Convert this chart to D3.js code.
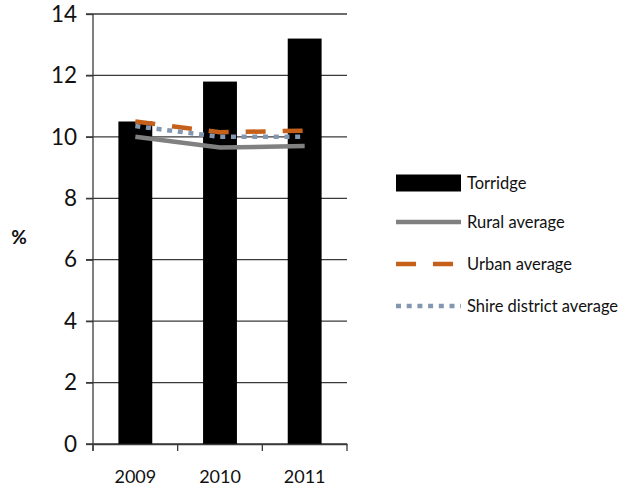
<!DOCTYPE html>
<html><head><meta charset="utf-8">
<script src="https://cdn.jsdelivr.net/npm/d3@7"></script>
<style>body{margin:0;background:#fff}svg{display:block;font-family:Lato,"Open Sans",sans-serif}</style>
</head><body><svg id="c" width="629" height="492"></svg>
<script>
const years = ["2009","2010","2011"];
const torridge = [10.5, 11.8, 13.2];
const rural = [10.0, 9.65, 9.7];
const urban = [10.5, 10.15, 10.2];
const shire = [10.35, 10.0, 10.0];
const yTicks = [0,2,4,6,8,10,12,14];

const svg = d3.select("#c");
const L = 93, R = 347, T = 14, B = 444;
const x = d3.scaleBand().domain(years).range([L, R]).paddingInner(0.6).paddingOuter(0.3);
const y = d3.scaleLinear().domain([0,14]).range([B, T]);

// grid
svg.append("g").selectAll("line").data(yTicks).join("line")
  .attr("x1", L-7).attr("x2", R).attr("y1", d=>y(d)).attr("y2", d=>y(d))
  .attr("stroke", "#3a3a3a").attr("stroke-width", 1.3);

// y axis labels
const ya = svg.append("g").attr("transform", `translate(${L},0)`)
  .call(d3.axisLeft(y).tickValues(yTicks).tickSize(7).tickPadding(9));
ya.select(".domain").remove();
ya.selectAll("line").attr("stroke", "#3a3a3a").attr("stroke-width", 1.3);
ya.selectAll("text").attr("font-size", 22.5).attr("fill", "#111").attr("font-family", "Lato");

// bars
svg.append("g").selectAll("rect").data(years).join("rect")
  .attr("x", d=>x(d)).attr("width", x.bandwidth())
  .attr("y", (d,i)=>y(torridge[i])).attr("height", (d,i)=>B - y(torridge[i]))
  .attr("fill", "#000");

// axes lines
svg.append("line").attr("x1", L).attr("x2", L).attr("y1", T).attr("y2", B+7)
  .attr("stroke", "#3a3a3a").attr("stroke-width", 1.3);
const xa = svg.append("g").attr("transform", `translate(0,${B})`)
  .call(d3.axisBottom(x).tickSize(0).tickPadding(26));
xa.select(".domain").attr("stroke", "#3a3a3a").attr("stroke-width", 1.3);
xa.selectAll("text").attr("font-size", 18).attr("fill", "#111").attr("font-family", "Lato");
const step = x.step();
const bounds = d3.range(0, years.length+1).map(i => L + i*step);
svg.append("g").selectAll("line").data(bounds).join("line")
  .attr("x1", d=>d).attr("x2", d=>d).attr("y1", B).attr("y2", B+7)
  .attr("stroke", "#3a3a3a").attr("stroke-width", 1.3);

// lines
const cx = d => x(d) + x.bandwidth()/2;
const series = [
  {name:"Rural average", vals: rural, color:"#808080", dash:null},
  {name:"Urban average", vals: urban, color:"#c5601a", dash:"20,17"},
  {name:"Shire district average", vals: shire, color:"#8497b0", dash:"5,5.7"}
];
const line = d3.line().x(d=>cx(d.k)).y(d=>y(d.v));
series.forEach(s=>{
  svg.append("path").datum(years.map((k,i)=>({k, v:s.vals[i]})))
    .attr("d", line).attr("fill","none").attr("stroke", s.color)
    .attr("stroke-width", 4.5).attr("stroke-dasharray", s.dash);
});

// % label
svg.append("text").attr("x", 19).attr("y", 244).attr("text-anchor","middle")
  .attr("font-size", 19).attr("font-weight","bold").attr("fill","#111").text("%");

// legend
const lg = svg.append("g");
const lx = 396, lw = 65, tx = 467;
const rows = [183, 222, 264, 306];
lg.append("rect").attr("x", lx).attr("y", rows[0]-8.5).attr("width", lw).attr("height", 17).attr("fill","#000");
lg.append("text").attr("x", tx).attr("y", rows[0]+5.5).attr("font-size",16.5).attr("fill","#111").text("Torridge");
series.forEach((s,i)=>{
  const yy = rows[i+1];
  lg.append("line").attr("x1", lx).attr("x2", lx+lw).attr("y1", yy).attr("y2", yy)
    .attr("stroke", s.color).attr("stroke-width", 4.5).attr("stroke-dasharray", s.dash);
  lg.append("text").attr("x", tx).attr("y", yy+5.5).attr("font-size",16.5).attr("fill","#111").text(s.name);
});
</script></body></html>
